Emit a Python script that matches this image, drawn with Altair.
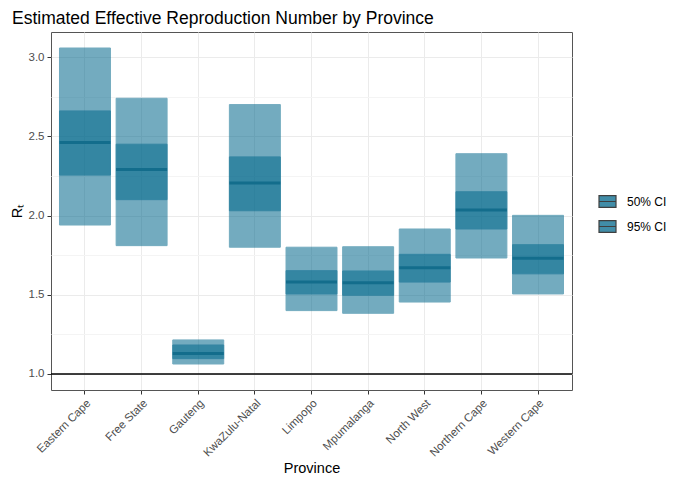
import altair as alt
import pandas as pd

provinces = ["Eastern Cape", "Free State", "Gauteng", "KwaZulu-Natal", "Limpopo",
             "Mpumalanga", "North West", "Northern Cape", "Western Cape"]
median = [2.46, 2.29, 1.13, 2.205, 1.58, 1.575, 1.67, 2.035, 1.73]
lo50 = [2.255, 2.10, 1.097, 2.03, 1.505, 1.497, 1.58, 1.915, 1.632]
hi50 = [2.66, 2.45, 1.183, 2.37, 1.652, 1.65, 1.755, 2.15, 1.816]
lo95 = [1.94, 1.81, 1.063, 1.80, 1.40, 1.383, 1.454, 1.732, 1.505]
hi95 = [3.057, 2.74, 1.215, 2.70, 1.80, 1.803, 1.915, 2.39, 2.001]
ci_levels = ["95% CI", "50% CI"]

rows = []
for i, p in enumerate(provinces):
    rows.append({"province": p, "ci": "95% CI", "lo": lo95[i], "hi": hi95[i], "order": 0})
for i, p in enumerate(provinces):
    rows.append({"province": p, "ci": "50% CI", "lo": lo50[i], "hi": hi50[i], "order": 1})
df = pd.DataFrame(rows)
med_df = pd.DataFrame({"province": provinces, "median": median})

base_color = "#02688c"
font = "Liberation Sans"

x_enc = alt.X("province:N", sort=provinces,
              scale=alt.Scale(paddingInner=0.1, paddingOuter=0.15),
              axis=alt.Axis(title="Province", labelAngle=-45, labelAlign="right",
                            labelBaseline="top", bandPosition=0.5,
                            grid=True, gridColor="#ebebeb", gridWidth=1,
                            tickColor="#333333", tickSize=4, labelPadding=3,
                            labelColor="#4d4d4d", labelFontSize=11.5,
                            titleFontSize=14.5, titleFontWeight="normal",
                            titleColor="#000000", titlePadding=3, domain=False,
                            labelFont=font, titleFont=font))

yscale = alt.Scale(domain=[0.899, 3.158], nice=False, zero=False)
major = "datum.value * 2 === round(datum.value * 2)"
y_axis = alt.Axis(title="Rₜ", values=[1.0, 1.25, 1.5, 1.75, 2.0, 2.25, 2.5, 2.75, 3.0],
                  labelExpr=f"({major}) ? format(datum.value, '.1f') : ''",
                  gridColor=alt.condition(major, alt.value("#ebebeb"), alt.value("#f4f4f4")),
                  tickColor=alt.condition(major, alt.value("#333333"), alt.value("transparent")),
                  tickSize=4, labelPadding=3, labelColor="#4d4d4d", labelFontSize=11.5,
                  titleFontSize=14.5, titleFontWeight="normal", titleColor="#000000",
                  titlePadding=4, domain=False, labelFont=font, titleFont=font)

bars = alt.Chart(df).mark_bar(opacity=0.55, strokeWidth=1).encode(
    x=x_enc,
    y=alt.Y("lo:Q", scale=yscale, axis=y_axis),
    y2="hi:Q",
    fill=alt.Fill("ci:N", scale=alt.Scale(domain=["50% CI", "95% CI"],
                                          range=[base_color, base_color]),
                  legend=alt.Legend(title=None, orient="none", legendX=547, legendY=160,
                                    symbolType="M-1,-0.7H1V0.7H-1Z M-1,0H1",
                                    symbolSize=289, symbolStrokeColor="#000000",
                                    symbolStrokeWidth=1.2, symbolOpacity=0.75,
                                    labelFontSize=12, labelFont=font,
                                    labelColor="#000000", rowPadding=7,
                                    labelOffset=10, labelLimit=200)),
    stroke=alt.value(base_color),
    order=alt.Order("order:Q"),
)

med = alt.Chart(med_df).mark_tick(color="#136d8c", thickness=3, size=51, opacity=1).encode(
    x=alt.X("province:N", sort=provinces),
    y=alt.Y("median:Q"),
)

ref = alt.Chart(pd.DataFrame({"v": [1.0]})).mark_rule(color="#000000", strokeWidth=1.3).encode(
    y="v:Q"
)

chart = alt.layer(bars, med, ref).properties(
    width=521, height=358,
    title=alt.TitleParams("Estimated Effective Reproduction Number by Province",
                          anchor="start", frame="group", dx=-39, offset=5, fontSize=17.5,
                          fontWeight="normal", font=font, color="#000000"),
    autosize=alt.AutoSizeParams(type="none"),
    padding={"left": 43, "top": 24, "right": 100, "bottom": 96},
).configure_view(stroke="#555555", strokeWidth=1)

chart.save("out.html", embed_options={"renderer": "svg", "actions": False})
